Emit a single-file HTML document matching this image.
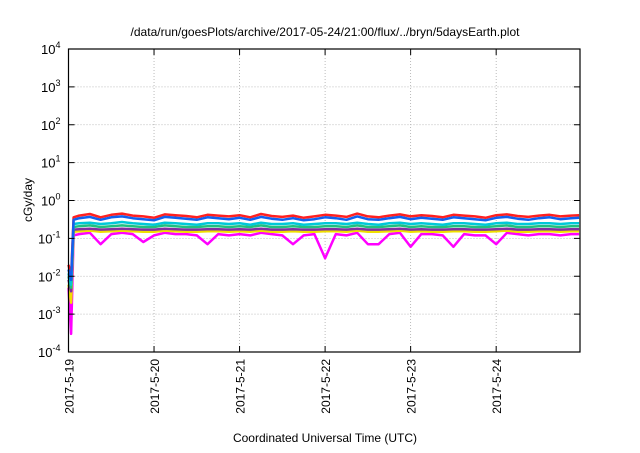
<!DOCTYPE html>
<html><head><meta charset="utf-8"><style>
html,body{margin:0;padding:0;background:#fff;}
svg text{font-family:"Liberation Sans",sans-serif;fill:#000;}
</style></head><body>
<svg id="chart" width="640" height="448" xmlns="http://www.w3.org/2000/svg">
<rect width="640" height="448" fill="#fff"/>
<text x="325" y="36" font-size="12" text-anchor="middle">/data/run/goesPlots/archive/2017-05-24/21:00/flux/../bryn/5daysEarth.plot</text>
<g id="grid"></g>
<g id="series"></g>
<rect x="68.5" y="49" width="511.5" height="303" fill="none" stroke="#000" stroke-width="1.2"/>
<g id="axes"></g>
<text transform="translate(32,200) rotate(-90)" font-size="12" text-anchor="middle">cGy/day</text>
<text x="325" y="442" font-size="12" text-anchor="middle">Coordinated Universal Time (UTC)</text>
</svg>
<script>
const xTickLabels=["2017-5-19","2017-5-20","2017-5-21","2017-5-22","2017-5-23","2017-5-24"];
const yExponents=[-4,-3,-2,-1,0,1,2,3,4];
const times=[0,0.03,0.06,0.125,0.25,0.375,0.5,0.625,0.75,0.875,1,1.125,1.25,1.375,1.5,1.625,1.75,1.875,2,2.125,2.25,2.375,2.5,2.625,2.75,2.875,3,3.125,3.25,3.375,3.5,3.625,3.75,3.875,4,4.125,4.25,4.375,4.5,4.625,4.75,4.875,5,5.125,5.25,5.375,5.5,5.625,5.75,5.875,5.97];
const red=[0.02,0.01,0.36,0.40,0.44,0.36,0.42,0.45,0.40,0.38,0.35,0.43,0.41,0.39,0.36,0.42,0.40,0.38,0.41,0.36,0.44,0.39,0.37,0.40,0.35,0.38,0.42,0.40,0.37,0.45,0.38,0.36,0.40,0.43,0.38,0.41,0.39,0.36,0.42,0.40,0.38,0.35,0.41,0.43,0.39,0.37,0.40,0.42,0.38,0.40,0.41];
const blue=[0.015,0.008,0.31,0.34,0.37,0.31,0.36,0.38,0.34,0.32,0.30,0.37,0.35,0.33,0.31,0.36,0.34,0.32,0.35,0.31,0.37,0.33,0.31,0.34,0.30,0.32,0.36,0.34,0.31,0.38,0.32,0.31,0.34,0.37,0.32,0.35,0.33,0.31,0.36,0.34,0.32,0.30,0.35,0.37,0.33,0.31,0.34,0.36,0.32,0.34,0.35];
const cyan=[0.012,0.006,0.24,0.25,0.26,0.24,0.25,0.27,0.25,0.24,0.23,0.26,0.25,0.24,0.23,0.25,0.25,0.24,0.25,0.23,0.26,0.24,0.24,0.25,0.23,0.24,0.25,0.25,0.24,0.26,0.24,0.23,0.25,0.26,0.24,0.25,0.24,0.23,0.25,0.25,0.24,0.23,0.25,0.26,0.24,0.24,0.25,0.25,0.24,0.25,0.25];
const green=[0.01,0.005,0.20,0.21,0.22,0.20,0.21,0.22,0.21,0.20,0.20,0.22,0.21,0.20,0.20,0.21,0.21,0.20,0.21,0.20,0.22,0.20,0.20,0.21,0.20,0.20,0.21,0.21,0.20,0.22,0.20,0.20,0.21,0.22,0.20,0.21,0.20,0.20,0.21,0.21,0.20,0.20,0.21,0.22,0.20,0.20,0.21,0.21,0.20,0.21,0.21];
const purple=[0.008,0.004,0.17,0.175,0.18,0.17,0.175,0.18,0.175,0.17,0.17,0.18,0.175,0.17,0.17,0.175,0.175,0.17,0.175,0.17,0.18,0.17,0.17,0.175,0.17,0.17,0.175,0.175,0.17,0.18,0.17,0.17,0.175,0.18,0.17,0.175,0.17,0.17,0.175,0.175,0.17,0.17,0.175,0.18,0.17,0.17,0.175,0.175,0.17,0.175,0.175];
const yellow=[0.006,0.002,0.15,0.155,0.16,0.15,0.155,0.16,0.155,0.15,0.15,0.16,0.155,0.15,0.15,0.155,0.155,0.15,0.155,0.15,0.16,0.15,0.15,0.155,0.15,0.15,0.155,0.155,0.15,0.16,0.15,0.15,0.155,0.16,0.15,0.155,0.15,0.15,0.155,0.155,0.15,0.15,0.155,0.16,0.15,0.15,0.155,0.155,0.15,0.155,0.155];
const magenta=[0.005,0.0003,0.12,0.13,0.14,0.07,0.13,0.14,0.13,0.08,0.12,0.14,0.13,0.13,0.12,0.07,0.13,0.12,0.13,0.12,0.14,0.13,0.12,0.07,0.12,0.13,0.03,0.13,0.12,0.14,0.07,0.07,0.13,0.14,0.06,0.13,0.13,0.12,0.06,0.13,0.12,0.12,0.07,0.14,0.13,0.12,0.13,0.13,0.12,0.13,0.13];
const seriesList=[["magenta",magenta,"#ff00ff"],["yellow",yellow,"#f0e000"],["purple",purple,"#8030a0"],["green",green,"#20c080"],["cyan",cyan,"#00c8d8"],["red",red,"#ff2020"],["blue",blue,"#1060f0"]];
const L=68.5,R=580,T=49,B=352,XMAX=5.98;
const ns="http://www.w3.org/2000/svg";
function xs(t){return L+(R-L)*t/XMAX;}
function ys(v){return B-(Math.log10(v)+4)*(B-T)/8;}
const grid=document.getElementById('grid'),axes=document.getElementById('axes'),sg=document.getElementById('series');
function mk(tag,attrs,parent){const e=document.createElementNS(ns,tag);for(const k in attrs)e.setAttribute(k,attrs[k]);parent.appendChild(e);return e;}
yExponents.forEach(function(p){
  const y=ys(Math.pow(10,p));
  if(p>-4&&p<4){const g=mk('line',{x1:L,x2:R,y1:y,y2:y,stroke:'#aaa','stroke-width':0.8,'stroke-dasharray':'1,2'},grid);
  
  }
  const tk=mk('path',{d:'M'+L+' '+y+'h6M'+R+' '+y+'h-6',stroke:'#000','stroke-width':1},axes);
  
  
  const tx=mk('text',{x:L-8,y:y+5,'font-size':13,'text-anchor':'end'},axes);
  
  
  tx.textContent='10';
  const sp=mk('tspan',{dy:-6,'font-size':9},tx);sp.textContent=String(p);
});
xTickLabels.forEach(function(lab,i){
  const x=xs(i);
  if(i>0){const g=mk('line',{x1:x,x2:x,y1:T,y2:B,stroke:'#aaa','stroke-width':0.8,'stroke-dasharray':'1,2'},grid);
  
  }
  const tk=mk('path',{d:'M'+x+' '+B+'v-6M'+x+' '+T+'v6',stroke:'#000','stroke-width':1},axes);
  
  
  const tx=mk('text',{transform:'translate('+(x+5)+',359) rotate(-90)','font-size':12,'text-anchor':'end'},axes);
  
  
  tx.textContent=lab;
});
seriesList.forEach(function(s){
  const pts=s[1].map(function(v,i){return xs(times[i]).toFixed(1)+','+ys(v).toFixed(1);}).join(' ');
  const pl=mk('polyline',{points:pts,fill:'none',stroke:s[2],'stroke-width':2.5,'stroke-linejoin':'round'},sg);
  
  
});
</script>
</body></html>
